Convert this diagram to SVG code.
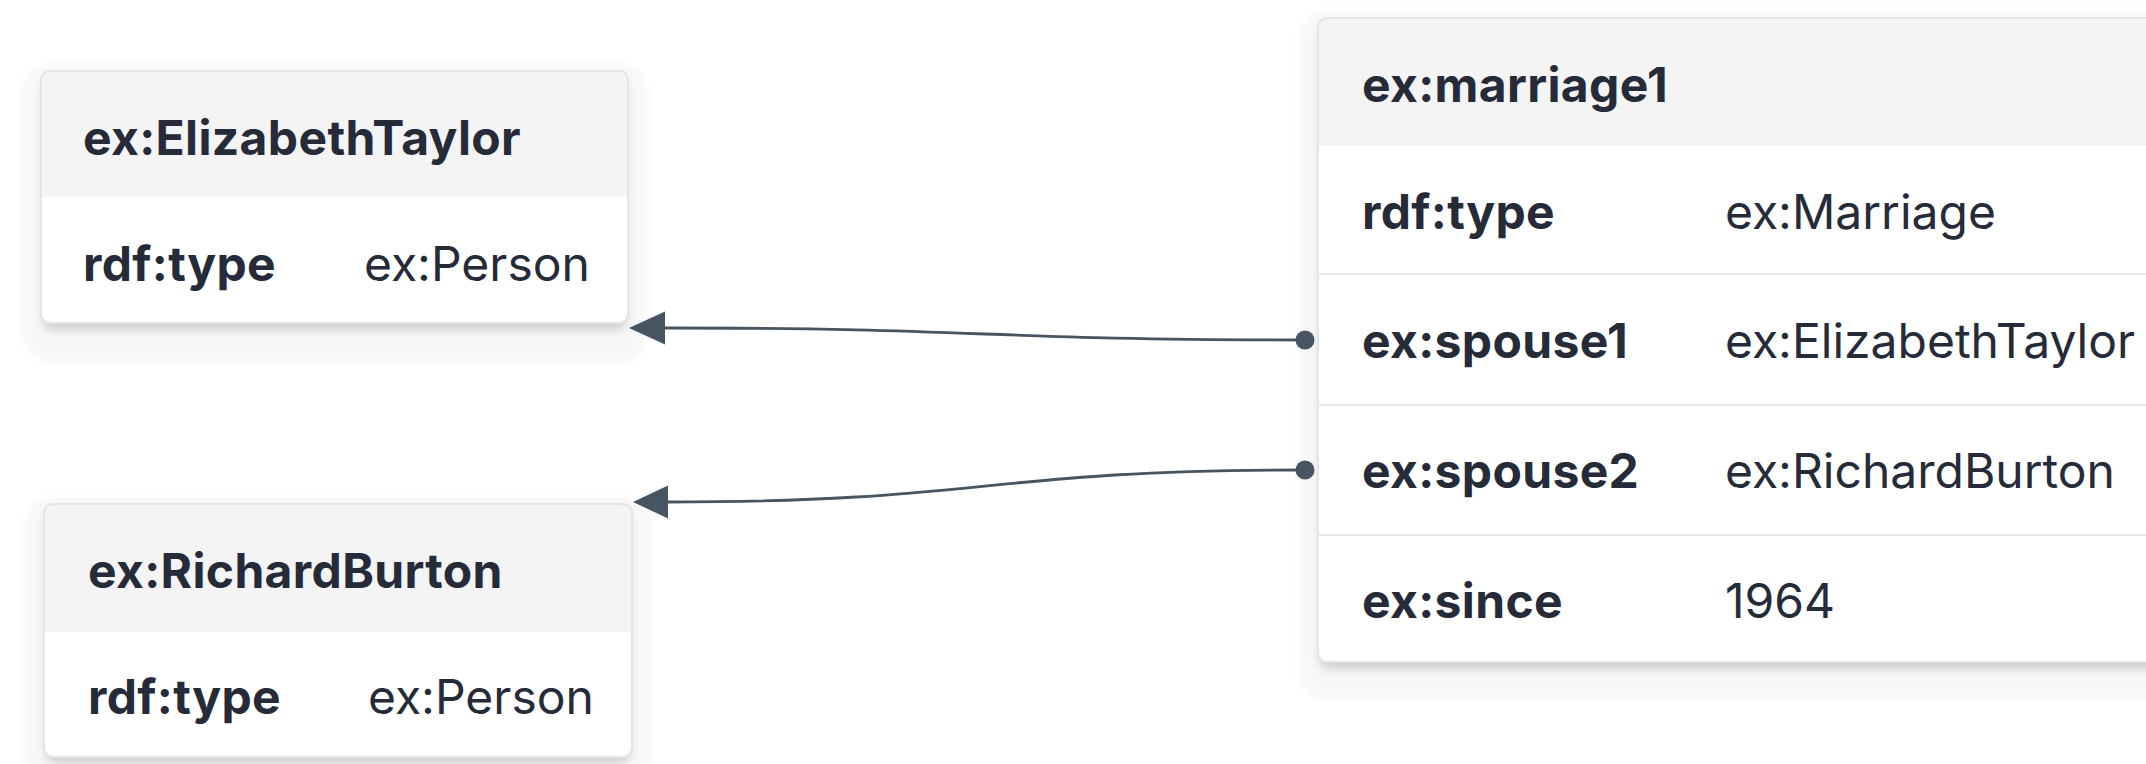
<svg xmlns="http://www.w3.org/2000/svg" width="2146" height="764" viewBox="0 0 2146 764">
  <style>
    .halo { fill: #000; opacity: 0.028; filter: url(#soft); }
    .drop { fill: #000; opacity: 0.16; filter: url(#drop); }
    .card { fill: #ffffff; stroke: #e4e5e9; stroke-width: 2; }
    .head { fill: #f4f4f5; }
    .div { stroke: #e6e7eb; stroke-width: 2; }
    .t { font-family: Inter, "Noto Sans", "Liberation Sans", sans-serif; font-size: 48px; fill: #252b39; }
    .b { font-weight: 700; letter-spacing: 0.35px; }
    .v { font-weight: 400; }
    .edge { fill: none; stroke: #475462; stroke-width: 2.8; }
    .dot { fill: #475462; }
  </style>
  <defs>
    <filter id="soft" x="-10%" y="-10%" width="120%" height="120%">
      <feGaussianBlur stdDeviation="4"/>
    </filter>
    <filter id="drop" x="-10%" y="-20%" width="120%" height="140%">
      <feGaussianBlur stdDeviation="5"/>
    </filter>
    <clipPath id="c1"><rect x="41" y="71" width="587" height="252" rx="9"/></clipPath>
    <clipPath id="c2"><rect x="44" y="504" width="588" height="253" rx="9"/></clipPath>
    <clipPath id="c3"><rect x="1318" y="18" width="900" height="644" rx="9"/></clipPath>
  </defs>

  <g id="node-elizabeth">
    <rect class="halo" x="21" y="63" width="627" height="300" rx="30"/>
    <rect class="drop" x="43" y="80" width="583" height="250" rx="9"/>
    <rect class="card" x="41" y="71" width="587" height="252" rx="9"/>
    <g clip-path="url(#c1)">
      <rect class="head" x="41" y="71" width="587" height="126"/>
    </g>
    <rect x="41" y="71" width="587" height="252" rx="9" fill="none" stroke="#e4e5e9" stroke-width="2"/>
    <text class="t b" x="83" y="155">ex:ElizabethTaylor</text>
    <text class="t b" x="83" y="281">rdf:type</text>
    <text class="t v" x="364" y="281">ex:Person</text>
  </g>

  <g id="node-richard">
    <rect class="halo" x="24" y="496" width="628" height="300" rx="30"/>
    <rect class="drop" x="46" y="513" width="584" height="250" rx="9"/>
    <rect class="card" x="44" y="504" width="588" height="253" rx="9"/>
    <g clip-path="url(#c2)">
      <rect class="head" x="44" y="504" width="588" height="128"/>
    </g>
    <rect x="44" y="504" width="588" height="253" rx="9" fill="none" stroke="#e4e5e9" stroke-width="2"/>
    <text class="t b" x="88" y="588">ex:RichardBurton</text>
    <text class="t b" x="88" y="714">rdf:type</text>
    <text class="t v" x="368" y="714">ex:Person</text>
  </g>

  <g id="node-marriage">
    <rect class="halo" x="1298" y="10" width="940" height="690" rx="30"/>
    <rect class="drop" x="1320" y="27" width="896" height="642" rx="9"/>
    <rect class="card" x="1318" y="18" width="900" height="644" rx="9"/>
    <g clip-path="url(#c3)">
      <rect class="head" x="1318" y="18" width="900" height="128"/>
    </g>
    <line class="div" x1="1318" y1="274" x2="2218" y2="274"/>
    <line class="div" x1="1318" y1="405" x2="2218" y2="405"/>
    <line class="div" x1="1318" y1="535" x2="2218" y2="535"/>
    <rect x="1318" y="18" width="900" height="644" rx="9" fill="none" stroke="#e4e5e9" stroke-width="2"/>
    <text class="t b" x="1362" y="102">ex:marriage1</text>
    <text class="t b" x="1362" y="229">rdf:type</text>
    <text class="t v" x="1725" y="229">ex:Marriage</text>
    <text class="t b" x="1362" y="358">ex:spouse1</text>
    <text class="t v" x="1725" y="358">ex:ElizabethTaylor</text>
    <text class="t b" x="1362" y="488">ex:spouse2</text>
    <text class="t v" x="1725" y="488">ex:RichardBurton</text>
    <text class="t b" x="1362" y="618">ex:since</text>
    <text class="t v" x="1725" y="618">1964</text>
  </g>

  <g id="connectors">
    <path class="edge" d="M1305 340 C985 340 985 328 665 328"/>
    <path d="M629 328 L665 311.5 L665 344.5 Z" class="dot"/>
    <circle class="dot" cx="1305" cy="340" r="9.5"/>
    <path class="edge" d="M1305 470 C985 470 985 502 668 502"/>
    <path d="M633 502 L668 485.5 L668 518.5 Z" class="dot"/>
    <circle class="dot" cx="1305" cy="470" r="9.5"/>
  </g>
</svg>
